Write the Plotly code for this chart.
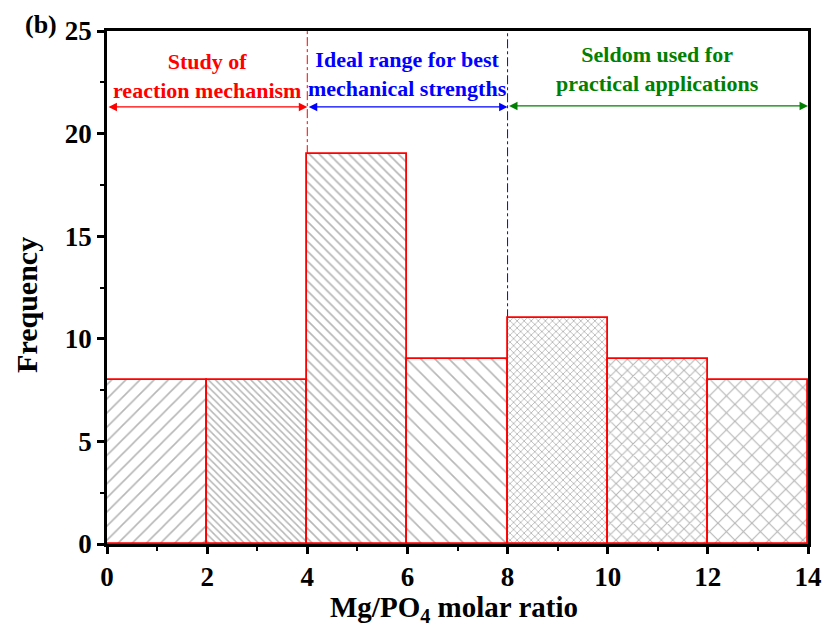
import plotly.graph_objects as go

bin_left = [0, 2, 4, 6, 8, 10, 12]
bin_width = 2
frequency = [8, 8, 19, 9, 11, 9, 8]
pattern_shapes = ["/", "\\", "\\", "\\", "x", "x", "x"]
pattern_sizes = [10, 5, 7, 10, 5, 8, 12]
pattern_line_px = [1.6, 1.5, 1.6, 1.6, 1.6, 1.9, 2.2]

regions = [
    {"x0": 0, "x1": 4, "label": "Study of<br>reaction mechanism", "color": "#ff0000", "ty": 22.8, "ay": 21.3},
    {"x0": 4, "x1": 8, "label": "Ideal range for best<br>mechanical strengths", "color": "#0000ff", "ty": 22.9, "ay": 21.3},
    {"x0": 8, "x1": 14, "label": "Seldom used for<br>practical applications", "color": "#008000", "ty": 23.15, "ay": 21.35},
]
divider_x = [4, 8]
divider_colors = ["#ff0000", "#0000ff"]
divider_bottom = [19, 11]

font_fam = "Liberation Serif, Times New Roman, serif"

fig = go.Figure()
fig.add_trace(go.Bar(
    x=[b + bin_width / 2 for b in bin_left],
    y=frequency,
    width=[bin_width] * len(bin_left),
    marker=dict(
        color="white",
        line=dict(color="#ff0000", width=1.8),
        pattern=dict(shape=pattern_shapes, size=pattern_sizes,
                     solidity=[w / s for w, s in zip(pattern_line_px, pattern_sizes)],
                     fgcolor="#6e6e6e", bgcolor="white", fillmode="overlay"),
    ),
    showlegend=False,
))

for xv, c, yb in zip(divider_x, divider_colors, divider_bottom):
    fig.add_shape(type="line", x0=xv, x1=xv, y0=yb, y1=25, xref="x", yref="y",
                  line=dict(color=c, width=1, dash="dashdot"), layer="below")

for r in regions:
    fig.add_annotation(x=r["x1"], y=r["ay"], ax=r["x0"], ay=r["ay"], xref="x", yref="y",
                       axref="x", ayref="y", text="", showarrow=True,
                       arrowside="end+start", arrowhead=2, startarrowhead=2,
                       arrowsize=1.3, startarrowsize=1.3, arrowwidth=1.3, arrowcolor=r["color"])
    fig.add_annotation(x=(r["x0"] + r["x1"]) / 2, y=r["ty"], xref="x", yref="y",
                       text="<b>" + r["label"] + "</b>", showarrow=False,
                       font=dict(family=font_fam, size=22, color=r["color"]))

fig.add_annotation(x=-0.12, y=1.0136, xref="paper", yref="paper", text="<b>(b)</b>",
                   showarrow=False, xanchor="left", yanchor="middle",
                   font=dict(family=font_fam, size=26, color="black"))

# axis titles placed as annotations
fig.add_annotation(x=(27 - 107) / 701, y=0.466, xref="paper", yref="paper",
                   text="<b>Frequency</b>", textangle=-90, showarrow=False,
                   xanchor="center", yanchor="middle",
                   font=dict(family=font_fam, size=30, color="black"))
fig.add_annotation(x=0.495, y=-0.126, xref="paper", yref="paper",
                   text="<b>Mg/PO<sub>4</sub> molar ratio</b>", showarrow=False,
                   xanchor="center", yanchor="middle",
                   font=dict(family=font_fam, size=29, color="black"))

tickfont = dict(family=font_fam, size=27, color="black", weight="bold")

fig.update_layout(
    width=824, height=639,
    margin=dict(l=107, r=16, t=31, b=95),
    plot_bgcolor="white", paper_bgcolor="white",
    bargap=0,
    font=dict(family=font_fam, color="black"),
)
fig.update_xaxes(
    range=[0, 14], tickmode="array", tickvals=list(range(0, 15, 2)),
    ticks="outside", ticklen=7, tickwidth=2.5, tickcolor="black",
    minor=dict(ticks="outside", ticklen=4, tickwidth=2, dtick=1, tickcolor="black"),
    showline=True, linewidth=2.5, linecolor="black", mirror=True,
    showgrid=False, zeroline=False, automargin=False,
    tickfont=tickfont,
)
fig.update_yaxes(
    range=[0, 25], tickmode="array", tickvals=[0, 5, 10, 15, 20, 25],
    ticks="outside", ticklen=7, tickwidth=2.5, tickcolor="black",
    minor=dict(ticks="outside", ticklen=4, tickwidth=2, dtick=2.5, tickcolor="black"),
    showline=True, linewidth=2.5, linecolor="black", mirror=True,
    showgrid=False, zeroline=False, automargin=False,
    tickfont=tickfont,
)
fig.write_html("out.html")
